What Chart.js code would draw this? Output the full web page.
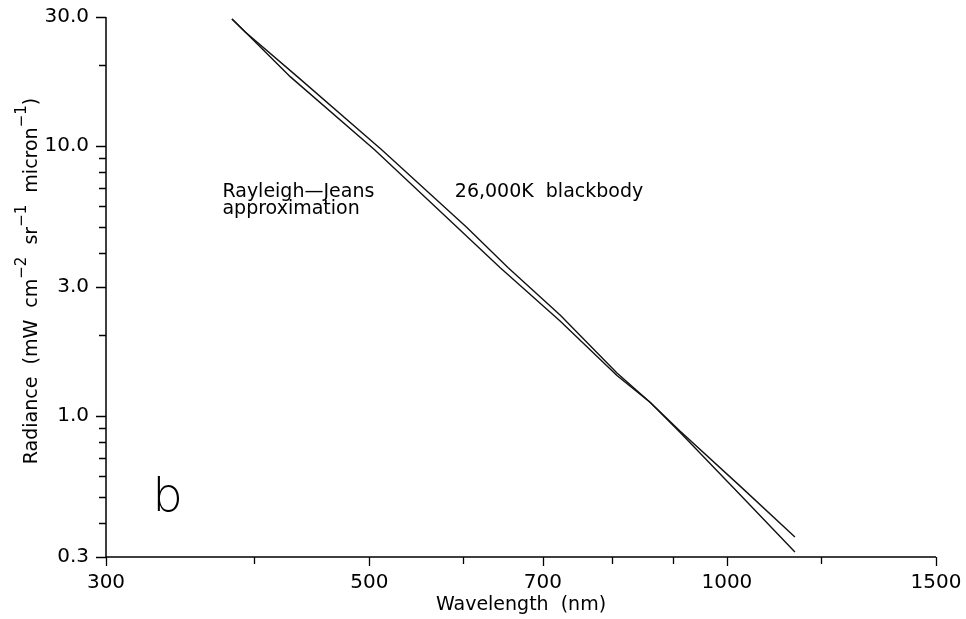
<!DOCTYPE html>
<html>
<head>
<meta charset="utf-8">
<script src="https://cdn.jsdelivr.net/npm/chart.js@4.4.1/dist/chart.umd.min.js"></script>
<style>
  html, body { margin: 0; padding: 0; background: #fff; }
  #wrap { width: 966px; height: 619px; }
</style>
</head>
<body>
<div id="wrap"><canvas id="chart" width="966" height="619"></canvas></div>
<script>
// Spectral radiance curves (wavelength in nm, radiance in mW cm^-2 sr^-1 micron^-1)
const wavelengthBlackbody = [383, 393, 435, 512, 604, 654, 724, 808, 862, 913, 1026, 1141];
const radianceBlackbody   = [29.5, 26.4, 18.0, 9.67, 4.98, 3.54, 2.36, 1.44, 1.12, 0.878, 0.549, 0.356];

const wavelengthRJ = [383, 393, 429, 505, 593, 644, 724, 808, 862, 913, 1026, 1141];
const radianceRJ   = [29.5, 26.4, 18.0, 9.67, 4.98, 3.54, 2.24, 1.41, 1.12, 0.870, 0.510, 0.313];

// Axis ticks
const xTickValues = [300, 400, 500, 600, 700, 800, 900, 1000, 1200, 1500];
const xTickLabels = ['300', '', '500', '', '700', '', '', '1000', '', '1500'];
const yTickValues = [0.3, 0.4, 0.5, 0.6, 0.7, 0.8, 0.9, 1, 2, 3, 4, 5, 6, 7, 8, 9, 10, 20, 30];
const yTickLabels = ['0.3', '', '', '', '', '', '', '1.0', '', '3.0', '', '', '', '', '', '', '10.0', '', '30.0'];

const FONT = "'DejaVu Sans', 'Liberation Sans', sans-serif";

function toPoints(xs, ys) {
  return xs.map((x, i) => ({ x: x, y: ys[i] }));
}

// Tick marks and axis lines drawn through the chart scales
const axisTicks = {
  id: 'axisTicks',
  afterDraw(chart) {
    const { ctx, chartArea: { left, right, top, bottom }, scales: { x, y } } = chart;
    ctx.save();
    ctx.strokeStyle = '#000';
    ctx.lineWidth = 1.5;
    ctx.beginPath();
    ctx.moveTo(left, top);
    ctx.lineTo(left, bottom);
    ctx.lineTo(right, bottom);
    ctx.stroke();
    ctx.lineWidth = 1.3;
    ctx.beginPath();
    xTickValues.forEach((v, i) => {
      const px = Math.round(x.getPixelForValue(v)) + 0.5;
      const len = xTickLabels[i] ? 9 : 7;
      ctx.moveTo(px, bottom);
      ctx.lineTo(px, bottom + len);
    });
    yTickValues.forEach((v, i) => {
      const py = Math.round(y.getPixelForValue(v)) + 0.5;
      const len = yTickLabels[i] ? 10 : 7;
      ctx.moveTo(left, py);
      ctx.lineTo(left - len, py);
    });
    ctx.stroke();
    ctx.restore();
  }
};

// Curve labels, panel letter and the y-axis title with superscripts
const annotations = {
  id: 'annotations',
  afterDraw(chart) {
    const { ctx, scales: { x, y } } = chart;
    ctx.save();
    ctx.fillStyle = '#000';
    ctx.textBaseline = 'alphabetic';
    ctx.textAlign = 'left';
    ctx.font = '19px ' + FONT;
    ctx.fillText('Rayleigh\u2014Jeans', x.getPixelForValue(376), y.getPixelForValue(6.48));
    ctx.fillText('approximation', x.getPixelForValue(376), y.getPixelForValue(5.57));
    ctx.fillText('26,000K  blackbody', x.getPixelForValue(590), y.getPixelForValue(6.48));

    ctx.font = "200 48px Inter, " + FONT;
    ctx.fillText('b', x.getPixelForValue(329), y.getPixelForValue(0.444));

    // Rotated y-axis title
    const parts = [
      ['Radiance  (mW  cm', false], ['\u22122', true], ['  sr', false], ['\u22121', true],
      ['  micron', false], ['\u22121', true], [')', false]
    ];
    const mainFont = '19px ' + FONT;
    const supFont = '15px ' + FONT;
    let total = 0;
    parts.forEach(([t, sup]) => { ctx.font = sup ? supFont : mainFont; total += ctx.measureText(t).width; });
    const cy = (chart.chartArea.top + chart.chartArea.bottom) / 2 - 6;
    ctx.translate(37, cy);
    ctx.rotate(-Math.PI / 2);
    let pos = -total / 2;
    parts.forEach(([t, sup]) => {
      ctx.font = sup ? supFont : mainFont;
      ctx.fillText(t, pos, sup ? -11 : 0);
      pos += ctx.measureText(t).width;
    });
    ctx.restore();
  }
};

const lineStyle = {
  borderColor: '#111',
  borderWidth: 1.4,
  pointRadius: 0,
  tension: 0,
  fill: false,
  showLine: true
};

new Chart(document.getElementById('chart'), {
  type: 'scatter',
  data: {
    datasets: [
      Object.assign({ label: '26,000K blackbody', data: toPoints(wavelengthBlackbody, radianceBlackbody) }, lineStyle),
      Object.assign({ label: 'Rayleigh-Jeans approximation', data: toPoints(wavelengthRJ, radianceRJ) }, lineStyle)
    ]
  },
  options: {
    responsive: false,
    animation: false,
    devicePixelRatio: 1,
    layout: { padding: { top: 17, right: 30, bottom: 0, left: 0 } },
    plugins: { legend: { display: false }, tooltip: { enabled: false } },
    scales: {
      x: {
        type: 'logarithmic',
        min: 300,
        max: 1500,
        afterBuildTicks: s => { s.ticks = xTickValues.map(v => ({ value: v })); },
        afterFit: s => { s.height = 62; s.paddingLeft = 0; s.paddingRight = 0; },
        grid: { display: false, drawTicks: false },
        border: { display: false },
        ticks: {
          autoSkip: false,
          maxRotation: 0,
          padding: 14,
          color: '#000',
          font: { family: FONT, size: 20 },
          callback: (v) => { const i = xTickValues.indexOf(v); return i >= 0 ? xTickLabels[i] : ''; }
        },
        title: {
          display: true,
          text: 'Wavelength  (nm)',
          color: '#000',
          font: { family: FONT, size: 19 },
          padding: { top: 0, bottom: 3 }
        }
      },
      y: {
        type: 'logarithmic',
        min: 0.3,
        max: 30,
        afterBuildTicks: s => { s.ticks = yTickValues.map(v => ({ value: v })); },
        afterFit: s => { s.width = 106; s.paddingTop = 0; s.paddingBottom = 0; },
        grid: { display: false, drawTicks: false },
        border: { display: false },
        ticks: {
          autoSkip: false,
          padding: 17,
          color: '#000',
          font: { family: FONT, size: 20 },
          callback: (v) => { const i = yTickValues.indexOf(v); return i >= 0 ? yTickLabels[i] : ''; }
        }
      }
    }
  },
  plugins: [axisTicks, annotations]
});
</script>
</body>
</html>
